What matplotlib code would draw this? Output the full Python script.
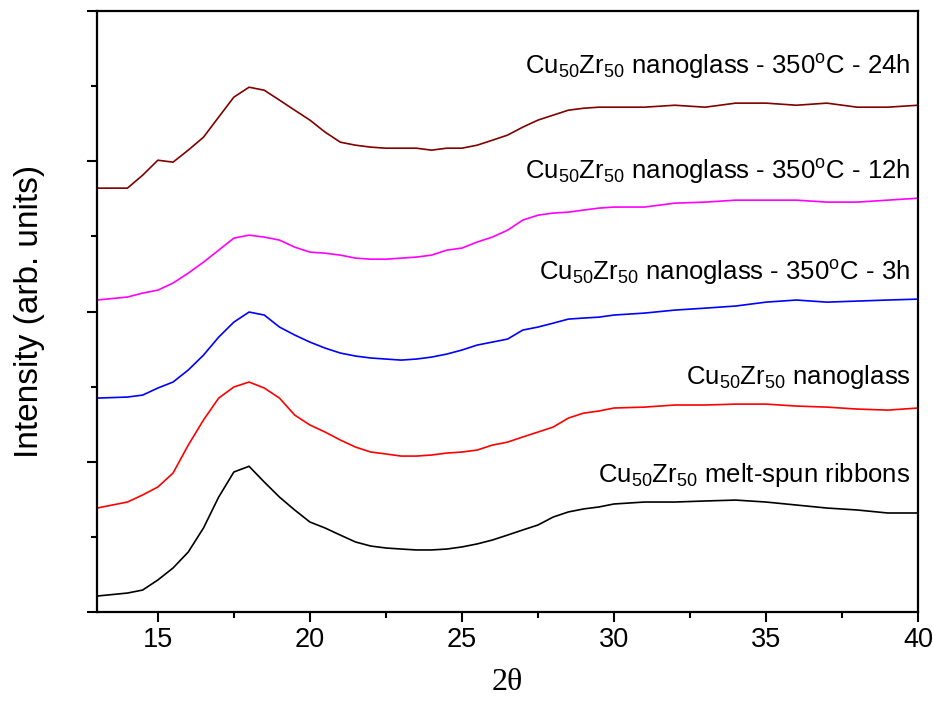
import matplotlib
matplotlib.use("Agg")
import matplotlib.pyplot as plt
from matplotlib.ticker import MultipleLocator, NullFormatter

plt.rcParams['font.family'] = ['Liberation Sans', 'DejaVu Sans']
plt.rcParams['mathtext.fontset'] = 'custom'
plt.rcParams['mathtext.rm'] = 'Liberation Sans'
plt.rcParams['mathtext.it'] = 'Liberation Sans:italic'
plt.rcParams['mathtext.bf'] = 'Liberation Sans:bold'

# 2-theta positions (degrees)
two_theta = [13, 14, 14.5, 15, 15.5, 16, 16.5, 17, 17.5, 18, 18.5, 19, 19.5,
             20, 20.5, 21, 21.5, 22, 22.5, 23, 23.5, 24, 24.5, 25, 25.5, 26,
             26.5, 27, 27.5, 28, 28.5, 29, 29.5, 30, 31, 32, 33, 34, 35, 36,
             37, 38, 39, 40]

# Intensities (arb. units, vertically offset as in the figure)
melt_spun = [0.106, 0.126, 0.146, 0.213, 0.293, 0.399, 0.559, 0.765, 0.932, 0.970,
             0.865, 0.765, 0.679, 0.599, 0.559, 0.512, 0.466, 0.439, 0.426, 0.419,
             0.413, 0.413, 0.419, 0.433, 0.453, 0.479, 0.512, 0.546, 0.579, 0.632,
             0.666, 0.686, 0.699, 0.719, 0.732, 0.732, 0.739, 0.745, 0.732, 0.712,
             0.692, 0.679, 0.659, 0.659]
nanoglass = [0.692, 0.732, 0.779, 0.832, 0.925, 1.111, 1.278, 1.424, 1.498, 1.531,
             1.491, 1.424, 1.311, 1.245, 1.198, 1.145, 1.098, 1.065, 1.052, 1.038,
             1.038, 1.045, 1.058, 1.065, 1.078, 1.111, 1.131, 1.165, 1.198, 1.231,
             1.291, 1.324, 1.338, 1.358, 1.364, 1.378, 1.378, 1.384, 1.384, 1.371,
             1.364, 1.351, 1.344, 1.358]
annealed_3h = [1.424, 1.431, 1.444, 1.491, 1.531, 1.611, 1.710, 1.830, 1.930, 1.997,
               1.977, 1.897, 1.844, 1.797, 1.757, 1.724, 1.704, 1.691, 1.684, 1.677,
               1.684, 1.697, 1.717, 1.744, 1.777, 1.797, 1.817, 1.877, 1.897, 1.923,
               1.950, 1.957, 1.963, 1.977, 1.990, 2.010, 2.023, 2.037, 2.063, 2.077,
               2.063, 2.070, 2.077, 2.083]
annealed_12h = [2.077, 2.097, 2.123, 2.143, 2.190, 2.256, 2.329, 2.409, 2.489, 2.509,
                2.496, 2.476, 2.429, 2.396, 2.389, 2.376, 2.356, 2.349, 2.349, 2.356,
                2.363, 2.376, 2.409, 2.423, 2.463, 2.496, 2.542, 2.609, 2.642, 2.656,
                2.662, 2.676, 2.689, 2.696, 2.696, 2.722, 2.729, 2.742, 2.742, 2.742,
                2.729, 2.729, 2.742, 2.755]
annealed_24h = [2.822, 2.822, 2.908, 3.008, 2.995, 3.075, 3.161, 3.295, 3.428, 3.494,
                3.474, 3.408, 3.341, 3.275, 3.195, 3.128, 3.108, 3.095, 3.088, 3.088,
                3.088, 3.075, 3.088, 3.088, 3.108, 3.141, 3.175, 3.228, 3.275, 3.308,
                3.341, 3.354, 3.361, 3.361, 3.361, 3.374, 3.361, 3.388, 3.388, 3.374,
                3.388, 3.361, 3.361, 3.374]

series = [melt_spun, nanoglass, annealed_3h, annealed_12h, annealed_24h]
colors = ['#000000', '#ff0000', '#0000ff', '#ff00ff', '#800000']
labels = [r'Cu$_{50}$Zr$_{50}$ melt-spun ribbons',
          r'Cu$_{50}$Zr$_{50}$ nanoglass',
          r'Cu$_{50}$Zr$_{50}$ nanoglass - 350$^{\rm o}$C - 3h',
          r'Cu$_{50}$Zr$_{50}$ nanoglass - 350$^{\rm o}$C - 12h',
          r'Cu$_{50}$Zr$_{50}$ nanoglass - 350$^{\rm o}$C - 24h']
label_y = [0.91, 1.565, 2.26, 2.93, 3.63]

fig = plt.figure(figsize=(9.33, 7.01), dpi=100)
ax = fig.add_axes([0.104, 0.127, 0.880, 0.857])

for y, c in zip(series, colors):
    ax.plot(two_theta, y, color=c, lw=1.2)

for lab, ly in zip(labels, label_y):
    ax.text(39.75, ly, lab, ha='right', va='center', fontsize=18.5)

ax.set_xlim(13, 40)
ax.set_ylim(0, 4)
ax.xaxis.set_major_locator(MultipleLocator(5))
ax.xaxis.set_minor_locator(MultipleLocator(2.5))
ax.yaxis.set_major_locator(MultipleLocator(1))
ax.yaxis.set_minor_locator(MultipleLocator(0.5))
ax.yaxis.set_major_formatter(NullFormatter())
ax.tick_params(axis='both', which='major', direction='out', length=7, width=1.5,
               labelsize=19.5, top=False, right=False)
ax.tick_params(axis='both', which='minor', direction='out', length=4, width=1.5,
               top=False, right=False)
for s in ax.spines.values():
    s.set_linewidth(1.6)

ax.set_xlabel('2θ', fontsize=23, family='Liberation Serif', labelpad=11)
ax.set_ylabel('Intensity (arb. units)', fontsize=24, labelpad=27)

fig.savefig('out.png', dpi=100)
